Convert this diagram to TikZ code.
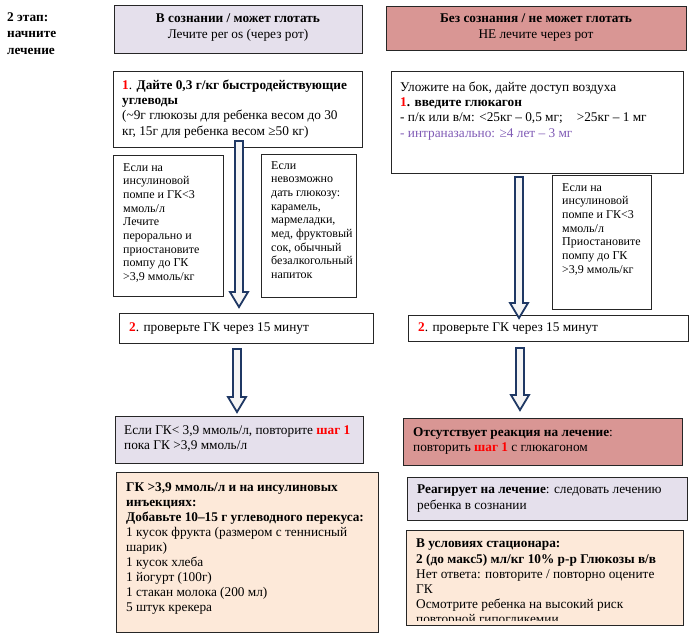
\documentclass[tikz,border=0pt]{standalone}
\usepackage{fontspec}
\setmainfont{Liberation Serif}
\usetikzlibrary{calc, shadows}
\definecolor{lavender}{HTML}{E5E0EC}
\definecolor{rosebox}{HTML}{D99694}
\definecolor{peach}{HTML}{FDE9D9}
\definecolor{navy}{HTML}{1F3864}
\definecolor{nasal}{HTML}{7F5AB5}
\tikzset{
    box/.style={draw=black!85, line width=0.7pt, anchor=north west, inner sep=0pt, outer sep=0pt},
    shadowed/.style={drop shadow={shadow xshift=1.3pt, shadow yshift=-1.3pt, fill=black!55, opacity=1}},
    txt/.style={anchor=north west, inner sep=0pt, align=left, font=\fontsize{13.3}{15.1}\selectfont},
    small/.style={txt, font=\fontsize{12}{13.7}\selectfont},
    bigarrow/.style={draw=navy, line width=1.8pt, fill=black!4, line join=miter}
}
\newcommand{\blockarrow}[2]{%
    \draw[bigarrow] let \p1=(#1), \p2=(#2) in
        (\x1-4pt,\y1) -- (\x1+4pt,\y1) -- (\x1+4pt,\y2+15pt) -- (\x1+9pt,\y2+15pt)
        -- (\x1,\y2) -- (\x1-9pt,\y2+15pt) -- (\x1-4pt,\y2+15pt) -- cycle;}

\begin{document}
\begin{tikzpicture}[x=1pt, y=-1pt]
    \useasboundingbox (0,0) rectangle (697,638);
    % Stage label
    \node[txt, font=\bfseries\fontsize{13.3}{16.5}\selectfont] (stage) at (7,12) {2 этап:\\начните\\лечение};
    % Top headers
    \node[box, fill=lavender, shadowed, minimum width=248pt, minimum height=48pt] (sym) at (114,5) {};
    \node[txt, anchor=center, align=center] at ($(sym.center)+(0,-1.5)$)
        {\textbf{В сознании / может глотать}\\Лечите per os (через рот)};
    \node[box, fill=rosebox, shadowed, minimum width=300pt, minimum height=44pt] (unc) at (386,6) {};
    \node[txt, anchor=center, align=center] at ($(unc.center)+(0,-0.5)$)
        {\textbf{Без сознания / не может глотать}\\НЕ лечите через рот};
    % Step 1
    \node[box, minimum width=249pt, minimum height=76pt] (carbs) at (113,71) {};
    \node[txt] at (122,80) {{\color{red}\textbf{1}}. \textbf{Дайте 0,3 г/кг быстродействующие}\\
        \textbf{углеводы}\\(\char`\~9г глюкозы для ребенка весом до 30\\кг, 15г для ребенка весом ≥50 кг)};
    \node[box, minimum width=292pt, minimum height=102pt] (glucagon) at (391,71) {};
    \node[txt] at (400,82) {Уложите на бок, дайте доступ воздуха\\
        {\color{red}\textbf{1}}\textbf{. введите глюкагон}\\
        - п/к или в/м: <25кг – 0,5 мг;\hspace{14pt}>25кг – 1 мг\\
        {\color{nasal}- интраназально: ≥4 лет – 3 мг}};
    % Side notes
    \node[box, minimum width=110pt, minimum height=141pt] (pumpL) at (113,155) {};
    \node[small] at (123,163) {Если на\\инсулиновой\\помпе и ГК<3\\ммоль/л\\Лечите\\перорально и\\приостановите\\помпу до ГК\\>3,9 ммоль/кг};
    \node[box, minimum width=95pt, minimum height=143pt] (candy) at (261,154) {};
    \node[small] at (271,161) {Если\\невозможно\\дать глюкозу:\\карамель,\\мармеладки,\\мед, фруктовый\\сок, обычный\\безалкогольный\\напиток};
    \node[box, minimum width=99pt, minimum height=134pt] (pumpR) at (552,175) {};
    \node[small] at (562,183) {Если на\\инсулиновой\\помпе и ГК<3\\ммоль/л\\Приостановите\\помпу до ГК\\>3,9 ммоль/кг};
    % Step 2
    \node[box, minimum width=254pt, minimum height=30pt] (checkL) at (119,313) {};
    \node[txt] at (129,322) {{\color{red}\textbf{2}}. проверьте ГК через 15 минут};
    \node[box, minimum width=280pt, minimum height=26pt] (checkR) at (408,315) {};
    \node[txt] at (418,322.5) {{\color{red}\textbf{2}}. проверьте ГК через 15 минут};
    % Outcomes
    \node[box, fill=lavender, shadowed, minimum width=248pt, minimum height=47pt] (repeatL) at (115,416) {};
    \node[txt] at (124,425) {Если ГК< 3,9 ммоль/л, повторите {\color{red}\textbf{шаг 1}}\\пока ГК >3,9 ммоль/л};
    \node[box, fill=rosebox, shadowed, minimum width=279pt, minimum height=47pt] (norespR) at (403,418) {};
    \node[txt] at (413,427) {\textbf{Отсутствует реакция на лечение}:\\повторить {\color{red}\textbf{шаг 1}} с глюкагоном};
    \node[box, fill=peach, shadowed, minimum width=262pt, minimum height=160pt] (snack) at (116,472) {};
    \node[txt] at (126,482) {\textbf{ГК >3,9 ммоль/л и на инсулиновых}\\\textbf{инъекциях:}\\
        \textbf{Добавьте 10–15 г углеводного перекуса:}\\1 кусок фрукта (размером с теннисный\\шарик)\\
        1 кусок хлеба\\1 йогурт (100г)\\1 стакан молока (200 мл)\\5 штук крекера};
    \node[box, fill=lavender, shadowed, minimum width=280pt, minimum height=43pt] (respR) at (407,477) {};
    \node[txt] at (417,485) {\textbf{Реагирует на лечение}: следовать лечению\\ребенка в сознании};
    \node[box, fill=peach, shadowed, minimum width=277pt, minimum height=95pt] (hosp) at (406,530) {};
    \begin{scope}
        \clip (hosp.north west) rectangle ($(hosp.south east)+(0,-5)$);
        \node[txt] at (416,539) {\textbf{В условиях стационара:}\\\textbf{2 (до макс5) мл/кг 10\% р-р Глюкозы в/в}\\
            Нет ответа: повторите / повторно оцените\\ГК\\Осмотрите ребенка на высокий риск\\повторной гипогликемии};
    \end{scope}
    \draw[black!85, line width=0.7pt] (hosp.north west) rectangle (hosp.south east);
    % Block arrows
    \blockarrow{$(carbs.south)+(1.5,-6)$}{$(checkL.north)+(1.5,-6)$}
    \blockarrow{$(glucagon.south)+(-18,4)$}{$(checkR.north)+(-29,3)$}
    \blockarrow{$(checkL.south)+(-9,6)$}{$(repeatL.north)+(-2,-4)$}
    \blockarrow{$(checkR.south)+(-28,7)$}{$(norespR.north)+(-22.5,-8)$}
\end{tikzpicture}
\end{document}
